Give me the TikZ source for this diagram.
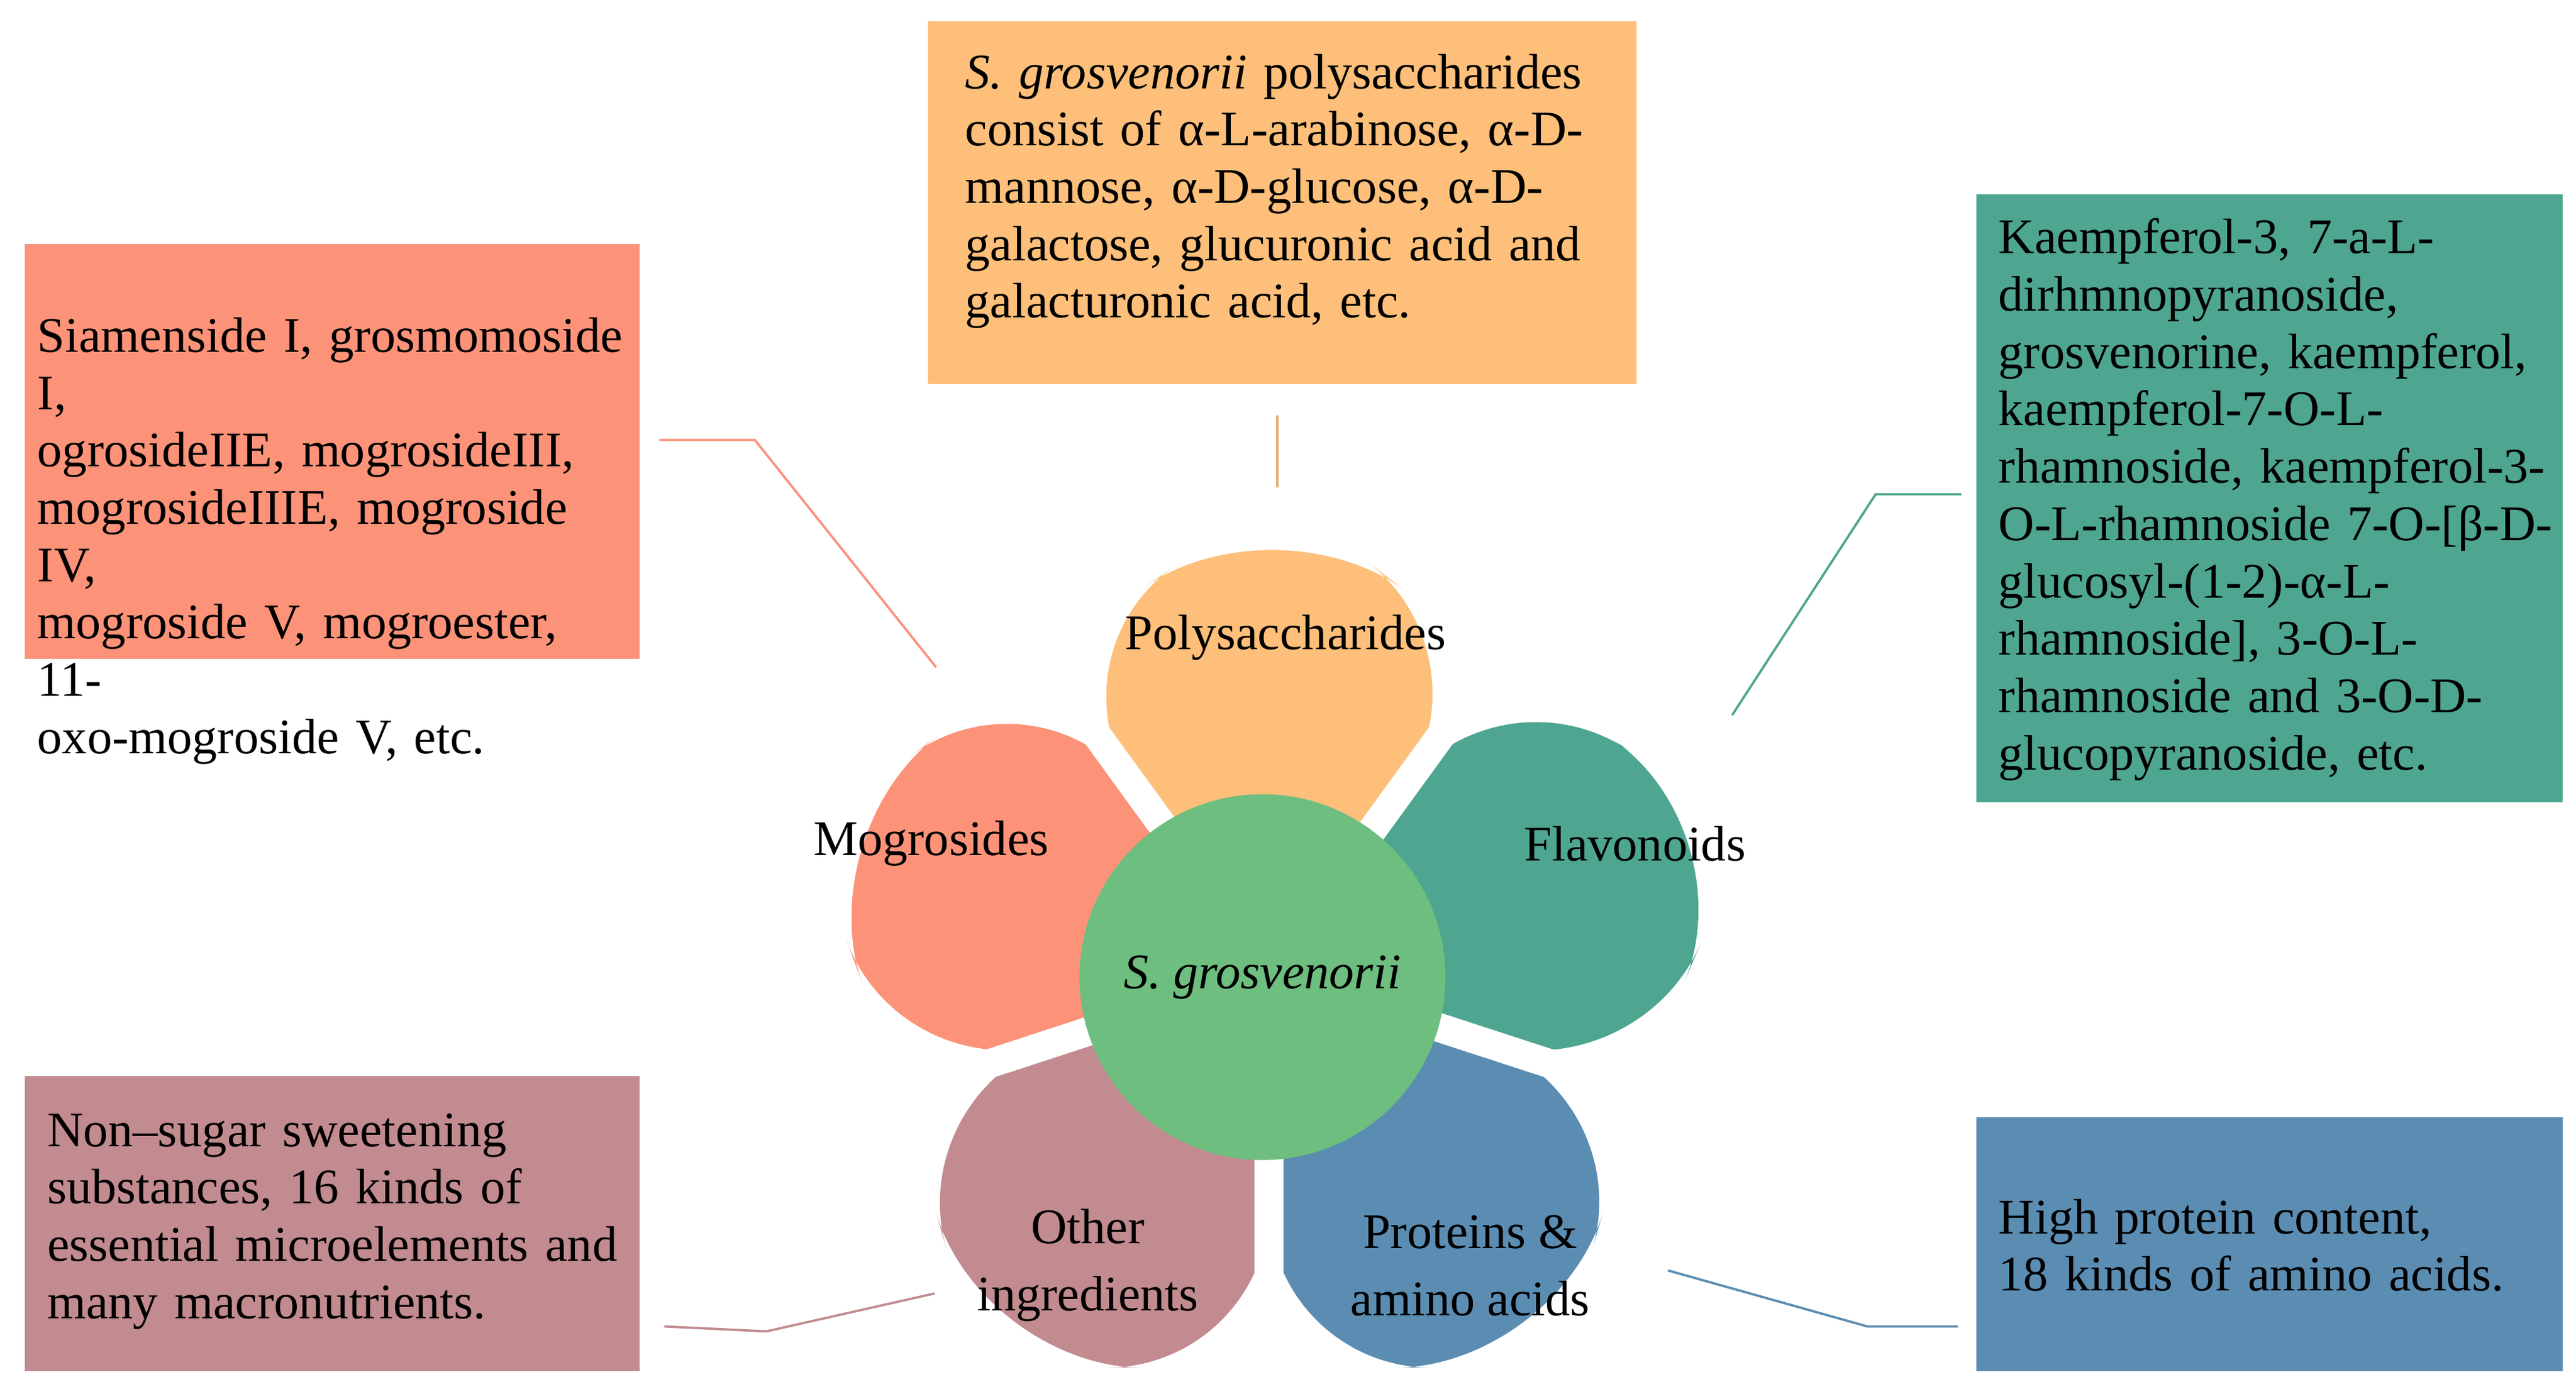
\documentclass[tikz,border=0pt]{standalone}
\usepackage{fontspec}
\setmainfont{Liberation Serif}
\usetikzlibrary{calc}
\definecolor{polyc}{HTML}{FDBF7A}
\definecolor{mogc}{HTML}{FC9379}
\definecolor{flac}{HTML}{4EA690}
\definecolor{othc}{HTML}{C28B90}
\definecolor{proc}{HTML}{5B8DB3}
\definecolor{cenc}{HTML}{6DBE7F}
\begin{document}
\begin{tikzpicture}[x=0.1mm,y=-0.1mm,
  every node/.style={font=\fontsize{8.6}{9.9}\selectfont},
  box/.style={inner sep=0pt,align=left,anchor=north west},
  piece/.style={rounded corners=28},
  link/.style={line width=0.4pt},
  ]
  \useasboundingbox (0,0) rectangle (1563,846);
  % Stuecke des Fuenfecks
  \fill [piece,polyc] (770,590) -- (632,400) -- (775,300) -- (908,400) -- cycle;
  \fill [piece,flac] (770,590) -- (908,400) -- (1060,505) -- (994,663) -- cycle;
  \fill [piece,proc] (770,590) -- (994,663) -- (945,830) -- (770,830) -- cycle;
  \fill [piece,othc] (770,590) -- (770,830) -- (595,830) -- (547,663) -- cycle;
  \fill [piece,mogc] (770,590) -- (547,663) -- (490,505) -- (632,400) -- cycle;
  %Luecken
  \foreach \x/\y in {632/400, 908/400, 994/663, 770/830, 547/663}
    \draw [white,line width=5pt] (770,590) -- ($(770,590)!1.2!(\x,\y)$);
  \fill [white] (768,592) circle [radius=0.345cm];
  \node (cen) [circle,fill=cenc,minimum size=2.22cm,inner sep=0pt] at (766,593) {\textit{S. grosvenorii}};
  %Beschriftung
  \node (poly) at (780,387) {Polysaccharides};
  \node (flav) at (992,512) {Flavonoids};
  \node (mog) at (565,512) {Mogrosides};
  \node (oth) [align=center] at (660,768) {Other\\[0.6mm]ingredients};
  \node (prot) [align=center] at (892,768) {Proteins \&\\[0.6mm]amino acids};
  %Kaesten
  \fill [polyc] (563,13) rectangle (993,233);
  \node (tpoly) [box,text width=3.9cm] at (585,32) {\textit{S. grosvenorii} polysaccharides\\consist of α-L-arabinose, α-D-\\mannose, α-D-glucose, α-D-\\galactose, glucuronic acid and\\galacturonic acid, etc.};
  \fill [mogc] (15,148) rectangle (388,400);
  \node (tmog) [box,text width=3.6cm] at (22,192) {Siamenside I, grosmomoside I,\\ogrosideIIE, mogrosideIII,\\mogrosideIIIE, mogroside IV,\\mogroside V, mogroester, 11-\\oxo-mogroside V, etc.};
  \fill [flac] (1199,118) rectangle (1555,487);
  \node (tflav) [box,text width=3.4cm] at (1212,132) {Kaempferol-3, 7-a-L-\\dirhmnopyranoside,\\grosvenorine, kaempferol,\\kaempferol-7-O-L-\\rhamnoside, kaempferol-3-\\O-L-rhamnoside 7-O-[β-D-\\glucosyl-(1-2)-α-L-\\rhamnoside], 3-O-L-\\rhamnoside and 3-O-D-\\glucopyranoside, etc.};
  \fill [othc] (15,653) rectangle (388,832);
  \node (toth) [box,text width=3.6cm] at (28,675) {Non–sugar sweetening\\substances, 16 kinds of\\essential microelements and\\many macronutrients.};
  \fill [proc] (1199,678) rectangle (1555,832);
  \node (tprot) [box,text width=3.4cm] at (1212,727) {High protein content,\\18 kinds of amino acids.};
  %Verbindungen
  \coordinate (a1) at (775,252); \coordinate (a2) at (775,296);
  \draw [link,polyc!90!black] (a1) -- (a2);
  \coordinate (b1) at (400,267); \coordinate (b2) at (568,405);
  \draw [link,mogc] (b1) -- (458,267) -- (b2);
  \coordinate (c1) at (1190,300); \coordinate (c2) at (1051,434);
  \draw [link,flac] (c1) -- (1138,300) -- (c2);
  \coordinate (d1) at (403,805); \coordinate (d2) at (567,785);
  \draw [link,othc] (d1) -- (465,808) -- (d2);
  \coordinate (e1) at (1012,771); \coordinate (e2) at (1188,805);
  \draw [link,proc] (e1) -- (1133,805) -- (e2);
\end{tikzpicture}
\end{document}
